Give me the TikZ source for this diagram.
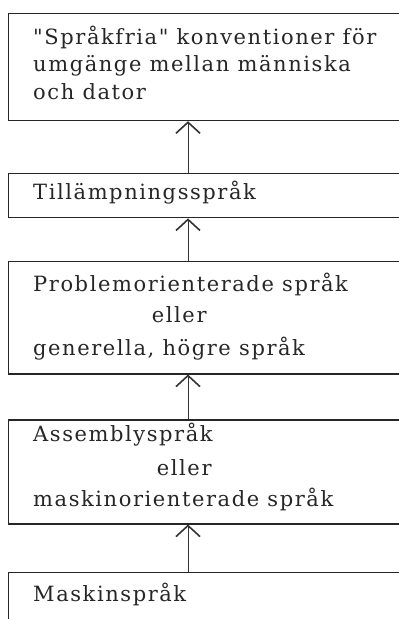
\documentclass[tikz,border=0pt]{standalone}
\usepackage{fontspec}
\setmainfont[LetterSpace=7.5,Ligatures=TeXOff]{DejaVu Serif}
\usetikzlibrary{arrows.meta,calc}
\begin{document}
\begin{tikzpicture}[x=1pt,y=-1pt,
  box/.style={draw=black!85,line width=1.2pt,rectangle,anchor=north west,inner sep=0pt,minimum width=430pt},
  txt/.style={anchor=base west,inner sep=0pt,font=\fontsize{21}{24}\selectfont,text=black!85},
  arr/.style={draw=black!80,line width=0.9pt,-{Straight Barb[length=11pt,width=24pt,line width=1.6pt]}}]
\useasboundingbox (0,0) rectangle (399,619);
\clip (0,0) rectangle (399,619);
\node[box,minimum height=107pt] (b1) at (8,13) {};
\node[box,minimum height=44.5pt] (b2) at (8,172.7) {};
\node[box,minimum height=112.3pt] (b3) at (8,261) {};
\node[box,minimum height=104pt] (b4) at (8,419.3) {};
\node[box,minimum height=80pt] (b5) at (8,572) {};
\node[txt] (t1a) at (33,44) {"Språkfria" konventioner för};
\node[txt] (t1b) at (33,71.5) {umgänge mellan människa};
\node[txt] (t1c) at (33,99) {och dator};
\node[txt] (t2) at (33,199.5) {Tillämpningsspråk};
\node[txt] (t3a) at (33,291.7) {Problemorienterade språk};
\node[txt] (t3b) at (151.7,322.7) {eller};
\node[txt] (t3c) at (33,355) {generella, högre språk};
\node[txt] (t4a) at (33,441.7) {Assemblyspråk};
\node[txt] (t4b) at (156.7,475) {eller};
\node[txt] (t4c) at (33,506.7) {maskinorienterade språk};
\node[txt] (t5) at (33,601.7) {Maskinspråk};
\coordinate (ax) at (188,0);
\draw[arr] (b2.north -| ax) -- (b1.south -| ax);
\draw[arr] (b3.north -| ax) -- (b2.south -| ax);
\draw[arr] (b4.north -| ax) -- (b3.south -| ax);
\draw[arr] (b5.north -| ax) -- (b4.south -| ax);
\end{tikzpicture}
\end{document}
